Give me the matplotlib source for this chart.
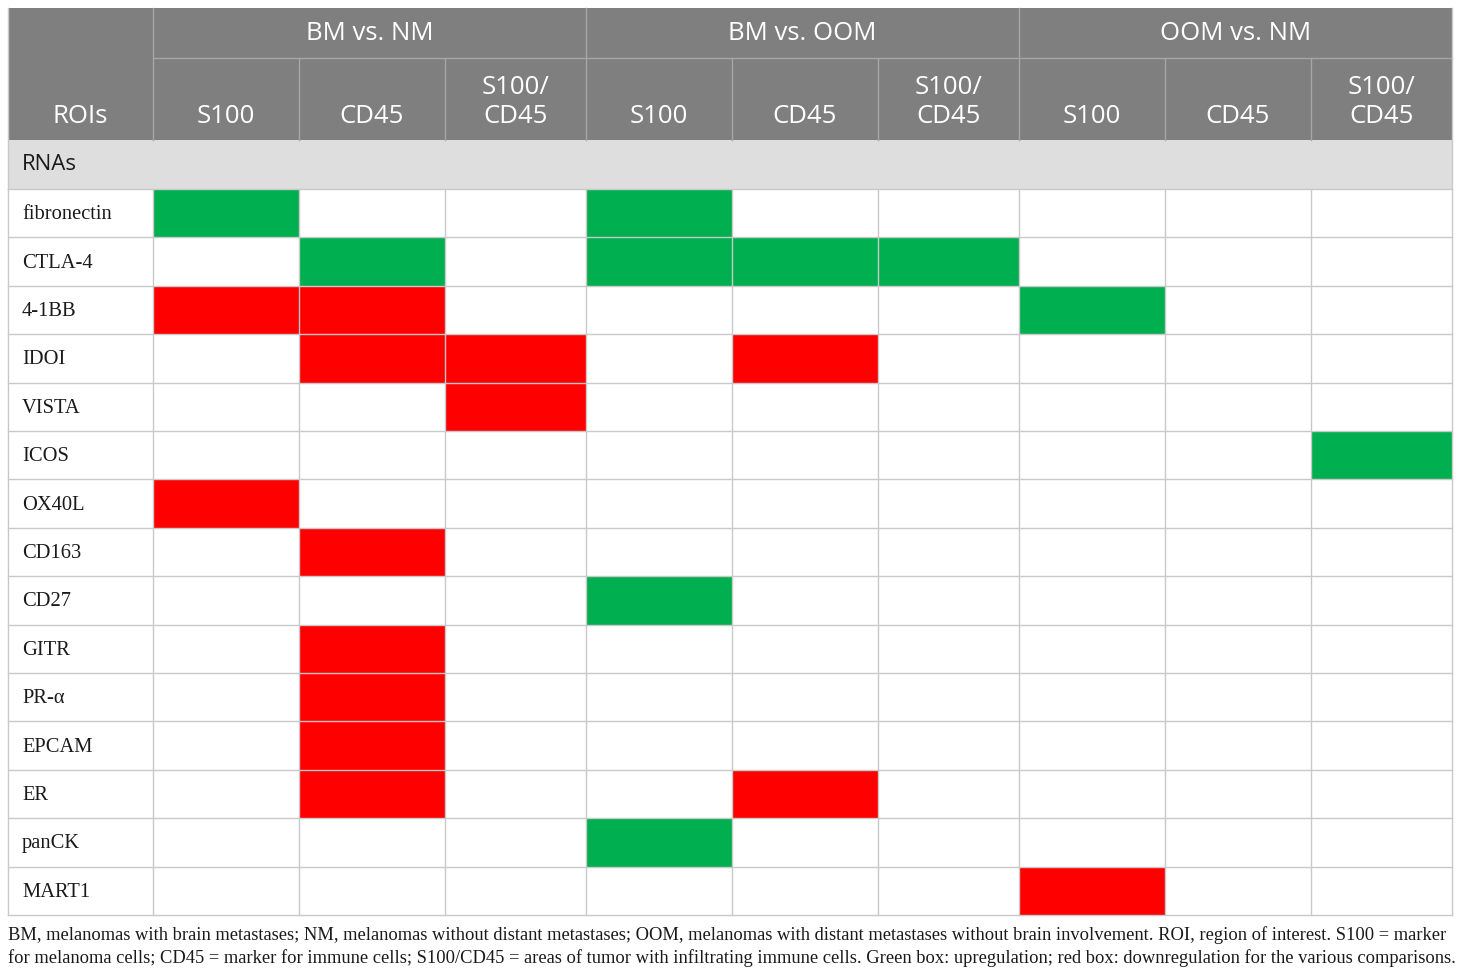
import matplotlib.pyplot as plt
from matplotlib.patches import Rectangle

# table content
comparisons = ["BM vs. NM", "BM vs. OOM", "OOM vs. NM"]
markers = ["S100", "CD45", "S100/\nCD45"]
section = "RNAs"
rois = ["fibronectin", "CTLA-4", "4-1BB", "IDOI", "VISTA", "ICOS", "OX40L",
        "CD163", "CD27", "GITR", "PR-\u03b1", "EPCAM", "ER", "panCK", "MART1"]
# 1 = upregulation (green), -1 = downregulation (red), 0 = none
regulation = [
    [1, 0, 0, 1, 0, 0, 0, 0, 0],
    [0, 1, 0, 1, 1, 1, 0, 0, 0],
    [-1, -1, 0, 0, 0, 0, 1, 0, 0],
    [0, -1, -1, 0, -1, 0, 0, 0, 0],
    [0, 0, -1, 0, 0, 0, 0, 0, 0],
    [0, 0, 0, 0, 0, 0, 0, 0, 1],
    [-1, 0, 0, 0, 0, 0, 0, 0, 0],
    [0, -1, 0, 0, 0, 0, 0, 0, 0],
    [0, 0, 0, 1, 0, 0, 0, 0, 0],
    [0, -1, 0, 0, 0, 0, 0, 0, 0],
    [0, -1, 0, 0, 0, 0, 0, 0, 0],
    [0, -1, 0, 0, 0, 0, 0, 0, 0],
    [0, -1, 0, 0, -1, 0, 0, 0, 0],
    [0, 0, 0, 1, 0, 0, 0, 0, 0],
    [0, 0, 0, 0, 0, 0, -1, 0, 0],
]
footnote = ["BM, melanomas with brain metastases; NM, melanomas without distant metastases; "
            "OOM, melanomas with distant metastases without brain involvement. ROI, region of interest. S100 = marker",
            "for melanoma cells; CD45 = marker for immune cells; S100/CD45 = areas of tumor with infiltrating "
            "immune cells. Green box: upregulation; red box: downregulation for the various comparisons."]

HEAD = "#7f7f7f"
SUB = "#dedede"
GRID = "#c9c9c9"
COLORS = {1: "#00b050", -1: "#ff0000"}
SANS = ["Open Sans", "DejaVu Sans"]
SERIF = ["Liberation Serif", "DejaVu Serif"]

col_x = [8, 153, 299, 445, 586, 732, 878, 1019, 1165, 1311, 1452]
y_h1, y_h2, y_sec, y_data = 8, 58, 140, 189
row_h = 48.4

fig = plt.figure(figsize=(14.6, 9.77), dpi=100)
ax = fig.add_axes([0, 0, 1, 1])
ax.set_xlim(0, 1460)
ax.set_ylim(977, 0)
ax.axis("off")

left, right = col_x[0], col_x[-1]

# header background
ax.add_patch(Rectangle((left, y_h1), right - left, y_sec - y_h1, color=HEAD, lw=0))
ax.add_patch(Rectangle((left, y_sec), right - left, y_data - y_sec, color=SUB, lw=0))

# header lines
hl = "#a6a6a6"
ax.plot([col_x[1], right], [y_h2, y_h2], color=hl, lw=1)
for k, x in enumerate(col_x[1:-1]):
    ax.plot([x, x], [y_h1 if k % 3 == 0 else y_h2, y_sec], color=hl, lw=1)

# comparison labels
for i, comp in enumerate(comparisons):
    xc = (col_x[1 + 3 * i] + col_x[4 + 3 * i]) / 2
    ax.text(xc, (y_h1 + y_h2) / 2 + 1, comp, ha="center", va="center",
            color="white", fontsize=18.5, family=SANS)

base = y_sec - 17
ax.text((col_x[0] + col_x[1]) / 2, base, "ROIs", ha="center", va="baseline",
        color="white", fontsize=18.5, family=SANS)
for j in range(9):
    xc = (col_x[1 + j] + col_x[2 + j]) / 2
    lines = markers[j % 3].split("\n")
    for n, line in enumerate(reversed(lines)):
        ax.text(xc, base - 29 * n, line, ha="center", va="baseline",
                color="white", fontsize=18.5, family=SANS)

ax.text(left + 14, (y_sec + y_data) / 2, section, ha="left", va="center",
        color="#1a1a1a", fontsize=16, family=SANS)

# data cells
for r, name in enumerate(rois):
    y0 = y_data + r * row_h
    for j, val in enumerate(regulation[r]):
        if val:
            ax.add_patch(Rectangle((col_x[1 + j], y0), col_x[2 + j] - col_x[1 + j], row_h,
                                   color=COLORS[val], lw=0))
    ax.text(left + 14, y0 + row_h / 2 + 1.5, name, ha="left", va="center",
            color="#1a1a1a", fontsize=14.8, family=SERIF)

# grid of data area
bottom = y_data + len(rois) * row_h
for r in range(len(rois) + 1):
    y = y_data + r * row_h
    ax.plot([left, right], [y, y], color=GRID, lw=1, zorder=3)
for x in col_x:
    ax.plot([x, x], [y_data, bottom], color=GRID, lw=1, zorder=3)
ax.plot([left, left], [y_h1, y_data], color=GRID, lw=1)
ax.plot([right, right], [y_h1, y_data], color=GRID, lw=1)

for n, line in enumerate(footnote):
    ax.text(left, bottom + 25 + 23 * n, line, ha="left", va="baseline", color="#1a1a1a",
            fontsize=13.3, family=SERIF)

fig.savefig("out.png", dpi=100)
